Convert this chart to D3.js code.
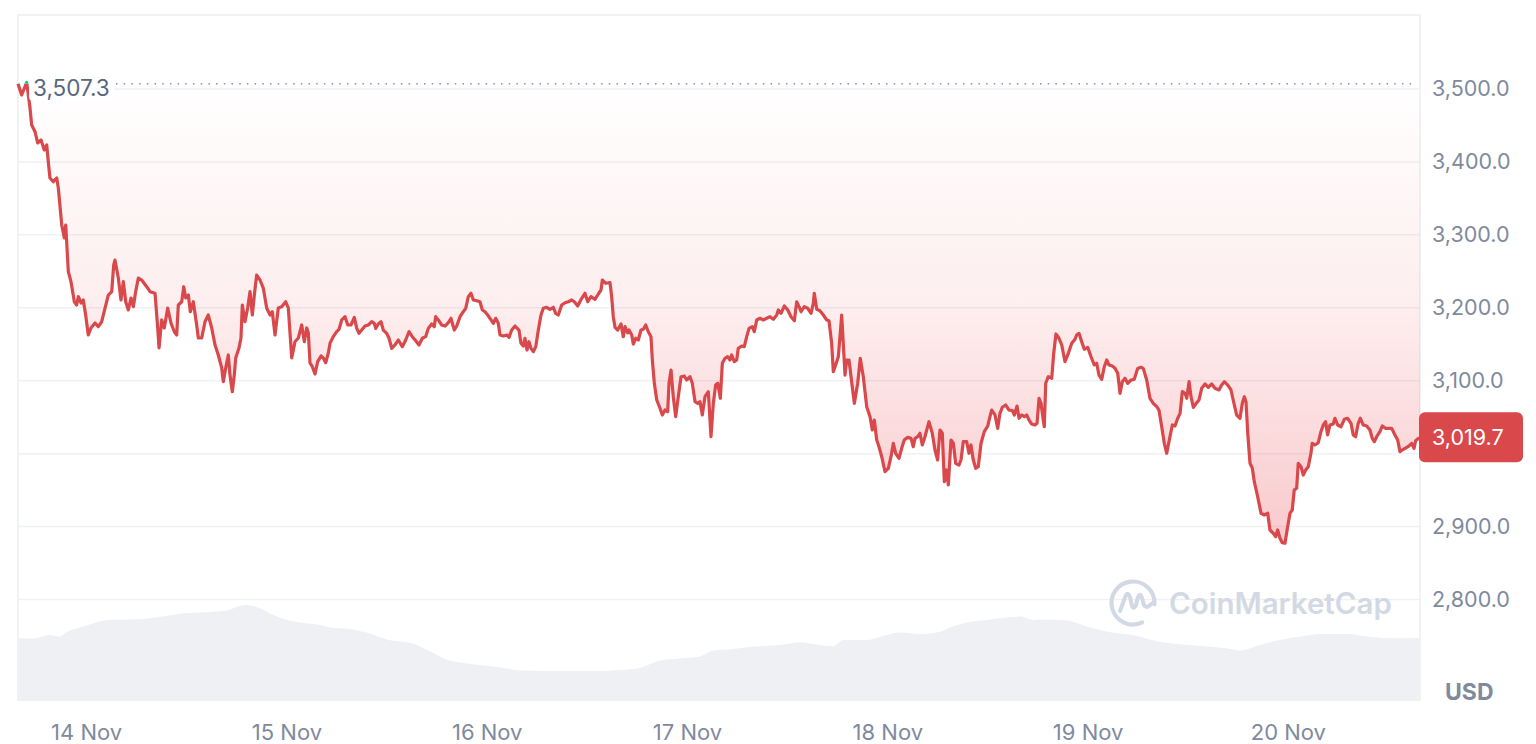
<!DOCTYPE html>
<html><head><meta charset="utf-8">
<script src="https://cdn.jsdelivr.net/npm/d3@7"></script>
<style>
html,body{margin:0;padding:0;background:#fff;}
svg{display:block;font-family:Inter,"Noto Sans",sans-serif;}
</style></head><body>
<svg id="chart" width="1536" height="744"></svg>
<script>
// ---------- data ----------
const startTime = "2024-11-13T15:50";
const openPrice = 3507.3;
const currencyLabel = "USD";
const watermarkText = "CoinMarketCap";
const yTickValues = [2800, 2900, 3000, 3100, 3200, 3300, 3400, 3500];
const xTickDates = ["2024-11-14", "2024-11-15", "2024-11-16", "2024-11-17", "2024-11-18", "2024-11-19", "2024-11-20"];

// hours since start
const priceHours = [
0,0.44,1.04,1.44,1.64,2.04,2.36,2.76,3.15,3.44,
3.63,3.83,4.23,4.64,4.83,5.24,5.55,5.72,6.03,6.35,
6.75,7.03,7.23,7.55,7.82,8.11,8.42,8.75,9.23,9.62,
10.03,10.43,10.82,11.23,11.47,11.62,12.02,12.34,12.62,12.91,
13.22,13.54,13.82,14.10,14.42,14.82,15.42,15.82,16.42,16.74,
16.90,17.22,17.53,17.94,18.33,18.73,19.02,19.21,19.62,19.86,
20.10,20.41,20.65,21.01,21.41,21.61,22.01,22.41,22.80,23.21,
23.61,24.00,24.41,24.60,24.89,25.20,25.40,25.68,25.92,26.09,
26.48,26.72,26.88,27.20,27.52,27.80,28.08,28.32,28.60,29.00,
29.39,29.80,30.20,30.47,30.80,31.19,31.60,32.08,32.39,32.80,
33.19,33.59,34.00,34.31,34.60,34.79,34.99,35.27,35.59,35.91,
36.31,36.58,36.87,37.18,37.39,37.78,38.19,38.47,38.79,39.19,
39.51,39.90,40.30,40.59,40.86,41.19,41.58,41.98,42.38,42.70,
42.86,43.17,43.50,43.77,44.18,44.46,44.78,45.18,45.57,46.05,
46.46,46.85,47.25,47.66,48.05,48.45,48.85,49.17,49.57,49.88,
50.05,50.36,50.77,51.17,51.56,51.89,52.04,52.28,52.57,52.97,
53.36,53.65,53.96,54.28,54.56,54.97,55.36,55.64,55.96,56.28,
56.68,56.96,57.24,57.55,57.76,58.15,58.56,58.84,59.16,59.56,
60.03,60.27,60.55,60.75,60.99,61.23,61.47,61.75,62.04,62.35,
62.67,62.95,63.35,63.75,64.14,64.43,64.74,65.15,65.55,65.94,
66.35,66.66,67.07,67.55,67.94,68.27,68.66,69.14,69.54,69.86,
70.02,70.42,70.94,71.14,71.33,71.54,71.86,72.26,72.53,72.74,
73.06,73.22,73.54,73.73,74.02,74.33,74.65,74.93,75.22,75.53,
75.85,76.01,76.25,76.54,76.93,77.21,77.53,77.85,78.01,78.25,
78.52,78.81,79.12,79.45,79.84,80.13,80.53,80.80,81.13,81.45,
81.72,82.00,82.32,82.72,83.04,83.32,83.60,83.85,84.16,84.40,
84.72,85.04,85.32,85.52,85.83,86.12,86.31,86.72,87.03,87.32,
87.60,87.99,88.23,88.52,88.91,89.31,89.72,90.11,90.51,90.92,
91.11,91.43,91.83,92.24,92.63,93.03,93.31,93.59,93.83,94.22,
94.63,95.03,95.30,95.42,95.71,96.10,96.50,96.91,97.18,97.50,
97.70,97.98,98.30,98.50,98.70,98.89,99.10,99.30,99.58,99.82,
100.22,100.62,100.93,101.29,101.70,102.10,102.37,102.61,102.90,103.17,
103.50,103.89,104.29,104.61,104.89,105.17,105.57,105.89,106.20,106.61,
107.01,107.28,107.49,107.81,108.08,108.36,108.68,109.16,109.56,109.88,
110.20,110.48,110.76,111.00,111.28,111.48,111.80,112.08,112.36,112.76,
113.00,113.27,113.68,113.95,114.19,114.47,114.76,115.07,115.40,115.79,
116.20,116.47,116.68,117.07,117.40,117.67,117.95,118.35,118.75,119.15,
119.39,119.71,119.95,120.28,120.59,120.87,121.15,121.47,121.87,122.11,
122.35,122.59,122.74,122.98,123.15,123.46,123.87,124.11,124.38,124.74,
125.07,125.46,125.86,126.27,126.66,126.86,127.14,127.46,127.77,128.18,
128.58,128.97,129.26,129.53,129.86,130.17,130.46,130.73,131.13,131.45,
131.78,132.05,132.33,132.65,132.97,133.37,133.76,134.17,134.56,134.84,
135.25,135.64,136.04,136.45,136.72,137.05,137.36,137.65,137.96,138.32,
138.64,138.97,139.25,139.52,139.85,140.05,140.33,140.56,140.84,141.13,
141.52,141.84,142.24,142.63,143.04,143.43,143.91,144.24,144.55,144.96,
145.35,145.75,146.03,146.43,146.71,146.95,147.15,147.36,147.63,147.91,
148.14,148.55,148.95,149.34,149.75,150.02,150.42,150.70,150.94,151.22,
151.49,151.82,152.14,152.42,152.69,152.93,153.22,153.41,153.74,154.01,
154.30,154.61,154.93,155.09,155.41,155.81,156.13,156.41,156.69,156.93,
157.21,157.60,157.81,158.13,158.53,158.93,159.33,159.73,160.00,160.29,
160.60,160.84,161.20,161.61,162.00,162.28,162.52,162.81,163.20,163.48,
163.89,164.28,164.61,165.00,165.33,165.60,166.00,166.40,166.68,167.00,
167.28,167.48,167.79,168.0
];
const prices = [
3507.3,3491.8,3509.0,3473.9,3450.6,3441.4,3426.0,3430.1,3416.4,3423.2,
3400.3,3378.0,3372.9,3378.0,3364.3,3313.5,3295.7,3313.5,3249.5,3235.8,
3208.3,3203.8,3215.2,3206.6,3210.7,3190.1,3162.7,3172.3,3179.1,3174.1,
3180.9,3199.7,3217.5,3222.1,3258.7,3265.5,3240.8,3210.7,3235.8,3208.3,
3197.0,3213.4,3201.5,3222.1,3240.8,3238.1,3228.9,3222.1,3219.9,3172.3,
3144.9,3183.3,3172.3,3199.7,3179.1,3167.2,3162.7,3203.8,3208.3,3228.9,
3213.4,3217.5,3194.6,3208.3,3176.4,3158.6,3158.6,3180.9,3190.1,3172.3,
3149.0,3135.3,3117.5,3098.7,3117.5,3135.3,3107.8,3084.9,3107.8,3131.2,
3144.9,3158.6,3203.8,3180.9,3199.7,3222.1,3190.1,3217.5,3244.9,3238.1,
3227.1,3199.7,3190.1,3194.6,3162.7,3199.7,3201.5,3208.3,3199.7,3131.2,
3153.5,3158.6,3176.4,3153.5,3172.3,3165.4,3124.3,3119.2,3109.2,3126.1,
3133.9,3131.2,3124.7,3137.6,3151.3,3160.4,3167.2,3170.5,3183.3,3187.8,
3176.4,3176.4,3186.9,3171.8,3165.0,3169.5,3175.0,3176.4,3180.9,3178.7,
3171.8,3177.8,3180.9,3169.5,3165.0,3158.2,3144.4,3149.0,3155.8,3146.7,
3155.8,3167.2,3160.4,3154.9,3149.0,3158.2,3160.4,3171.8,3177.8,3174.1,
3187.8,3183.3,3176.4,3175.0,3179.6,3185.6,3178.7,3169.5,3175.0,3187.8,
3194.6,3199.3,3215.2,3219.9,3210.7,3209.7,3208.3,3197.0,3194.6,3190.1,
3183.3,3178.7,3185.6,3178.7,3162.7,3161.3,3162.7,3159.5,3169.5,3175.0,
3169.5,3151.3,3147.6,3158.2,3142.1,3153.5,3144.4,3139.8,3146.7,3169.5,
3190.1,3199.3,3200.7,3197.9,3200.7,3192.4,3190.1,3203.8,3206.9,3208.3,
3210.7,3208.3,3202.5,3213.0,3219.9,3208.3,3215.2,3211.6,3218.9,3224.4,
3238.1,3233.6,3234.4,3215.2,3187.8,3173.2,3169.5,3177.8,3160.4,3174.1,
3165.8,3169.5,3162.7,3150.3,3158.2,3155.8,3169.5,3170.5,3176.4,3167.2,
3160.4,3128.4,3096.5,3073.6,3062.2,3053.0,3059.8,3057.5,3096.5,3114.7,
3078.1,3050.7,3078.1,3105.5,3106.5,3101.0,3105.5,3096.5,3071.2,3069.0,
3071.2,3053.0,3078.1,3084.9,3023.2,3069.0,3094.1,3096.5,3075.9,3123.9,
3130.7,3132.9,3128.4,3135.3,3126.1,3128.4,3144.4,3147.6,3146.7,3160.4,
3171.8,3174.1,3167.2,3183.3,3185.6,3183.3,3185.6,3187.8,3184.2,3190.1,
3197.0,3192.4,3202.5,3197.0,3187.8,3182.3,3208.3,3201.5,3194.6,3201.5,
3199.3,3192.4,3206.1,3219.9,3197.9,3196.0,3190.1,3183.3,3182.3,3151.3,
3112.4,3121.6,3132.9,3160.4,3190.1,3151.3,3107.8,3128.4,3128.4,3105.5,
3069.0,3096.5,3130.7,3105.5,3064.4,3050.7,3032.4,3046.1,3018.7,3009.5,
2995.8,2975.2,2979.9,2995.8,3014.2,3000.5,2993.6,3007.3,3018.7,3022.4,
3021.0,3009.5,3021.0,3023.2,3027.9,3011.9,3023.2,3043.8,3027.9,3005.0,
2991.3,3032.4,3027.9,2961.5,2977.6,2957.0,3018.7,3014.2,2986.8,2984.4,
2991.3,3016.4,3016.4,3000.5,3011.9,2991.3,2979.9,2982.1,3014.2,3030.1,
3037.9,3050.7,3059.8,3053.0,3034.7,3055.3,3063.6,3066.7,3059.8,3058.9,
3053.0,3065.3,3048.5,3053.0,3050.7,3053.0,3046.1,3040.6,3039.3,3041.6,
3075.9,3069.0,3055.3,3036.9,3096.5,3105.5,3103.3,3137.6,3164.1,3158.2,
3149.0,3126.1,3137.6,3151.3,3156.8,3162.7,3165.0,3153.5,3143.1,3145.8,
3132.9,3121.6,3123.9,3107.8,3101.9,3119.2,3128.4,3121.6,3120.2,3117.0,
3110.2,3082.7,3098.7,3103.3,3096.5,3101.0,3101.9,3116.9,3118.4,3116.9,
3100.9,3075.9,3069.0,3064.4,3059.8,3036.9,3014.2,3000.5,3018.7,3039.3,
3037.9,3048.5,3055.3,3085.1,3082.7,3075.9,3098.7,3078.1,3063.5,3068.1,
3073.6,3089.6,3095.5,3091.0,3095.5,3089.6,3087.3,3094.1,3098.7,3094.1,
3087.3,3066.7,3053.0,3048.5,3069.0,3078.1,3071.2,3027.9,2986.8,2979.9,
2961.5,2940.9,2918.2,2915.9,2918.2,2895.3,2890.8,2886.1,2895.3,2883.9,
2877.9,2877.1,2899.8,2918.2,2922.7,2950.1,2952.5,2986.8,2982.1,2970.7,
2977.6,2982.1,3000.5,3014.2,3011.9,3015.0,3030.1,3039.3,3043.8,3025.6,
3039.3,3040.6,3048.5,3039.3,3036.9,3047.1,3048.5,3041.6,3025.6,3023.2,
3041.6,3048.5,3039.3,3037.9,3032.4,3021.0,3016.4,3023.2,3030.1,3037.9,
3034.7,3034.7,3034.7,3025.6,3018.7,3002.7,3006.0,3008.7,3010.5,3014.2,
3007.3,3017.8,3021.0,3019.7
];

// 24h volume (billion USD), hours since start
const volumeHours = [0,1.8,3.8,5.0,5.9,7.1,9.0,11.0,13.8,15.8,17.9,19.4,21.8,25.0,26.6,27.4,29.0,30.6,32.2,33.8,36.2,37.7,40.1,41.8,44.2,47.3,49.0,51.4,53.8,56.2,57.8,60.2,63.7,69.7,72.1,74.5,76.1,76.9,79.3,81.7,83.3,85.7,88.1,91.3,93.7,96.1,97.7,98.9,101.7,104.1,105.7,108.1,110.5,112.0,113.7,116.1,117.7,120.1,121.6,122.5,125.7,128.1,130.5,133.6,136.8,140.1,142.5,145.6,146.4,148.8,151.2,153.6,156.0,159.3,161.7,164.1,166.5,168];
const volumes = [15.7,15.6,16.5,16.1,17.3,18.2,19.4,20.3,20.4,20.7,21.3,21.8,22.1,22.6,23.8,24.0,23.2,21.5,20.3,19.6,19.0,18.3,17.9,17.1,15.4,14.4,12.8,10.3,9.4,8.8,8.4,7.6,7.5,7.5,7.75,8.25,9.5,10.1,10.6,11.1,12.6,13.0,13.6,14.0,14.6,14.0,13.75,15.25,15.25,16.5,17.1,16.75,17.3,18.6,19.6,20.25,20.7,21.1,20.25,20.4,20.1,18.6,17.3,16.5,14.8,14.0,13.6,12.9,12.6,14.0,15.25,16.1,16.75,16.75,16.1,15.7,15.7,15.75];

// ---------- build ----------
(function () {
const parseT = d3.timeParse("%Y-%m-%dT%H:%M");
const parseD = d3.timeParse("%Y-%m-%d");
const t0 = parseT(startTime);
const toDate = h => new Date(t0.getTime() + h * 3600e3);
const n = Math.min(priceHours.length, prices.length);
const priceData = d3.range(n).map(i => ({t: toDate(priceHours[i]), p: prices[i]}));
const volData = volumeHours.map((h, i) => ({t: toDate(h), v: volumes[i]}));

const pL = 18, pR = 1420, pT = 15, pB = 701;
const FONT = "Inter,'Noto Sans',sans-serif";
const svg = d3.select("#chart");
const x = d3.scaleTime().domain([t0, toDate(168)]).range([pL, pR]);
const y = d3.scaleLinear().domain([2660.8, 3601.5]).range([pB, pT]);
const vy = d3.scaleLinear().domain([0, 25]).range([pB, 601]);

const RED = "#d9484b", GREEN = "#16c784";
const defs = svg.append("defs");
const yOpen = y(openPrice);
const minP = d3.min(prices);
const grad = defs.append("linearGradient").attr("id", "fillGrad")
  .attr("gradientUnits", "userSpaceOnUse").attr("x1", 0).attr("x2", 0)
  .attr("y1", yOpen).attr("y2", y(minP));
grad.append("stop").attr("offset", 0).attr("stop-color", "#ea3943").attr("stop-opacity", 0.0);
grad.append("stop").attr("offset", 0.5).attr("stop-color", "#ea3943").attr("stop-opacity", 0.09);
grad.append("stop").attr("offset", 1).attr("stop-color", "#ea3943").attr("stop-opacity", 0.27);

defs.append("clipPath").attr("id", "below").append("rect")
  .attr("x", 0).attr("y", yOpen).attr("width", 1536).attr("height", 744);
defs.append("clipPath").attr("id", "above").append("rect")
  .attr("x", 0).attr("y", 0).attr("width", 1536).attr("height", yOpen);

// grid
svg.append("g").selectAll("line").data(yTickValues).join("line")
  .attr("x1", pL).attr("x2", pR)
  .attr("y1", d => y(d)).attr("y2", d => y(d))
  .attr("stroke", "#eff1f4").attr("stroke-width", 1.5);

// frame
svg.append("path").attr("d", `M${pL},${pB}V${pT}H${pR}V${pB}`)
  .attr("stroke", "#eceef1").attr("stroke-width", 1.5).attr("fill", "none");

// volume
svg.append("path").datum(volData)
  .attr("d", d3.area().x(d => x(d.t)).y0(pB).y1(d => vy(d.v)).curve(d3.curveMonotoneX))
  .attr("fill", "#eff0f4");

// watermark
const wm = svg.append("g");
const cx = 1133, cy = 603, r = 21.5;
const pth = d3.path();
pth.arc(cx, cy, r, Math.PI * 0.36, Math.PI * 2.02);
wm.append("path").attr("d", pth.toString()).attr("fill", "none")
  .attr("stroke", "#d3d9e4").attr("stroke-width", 4.2).attr("stroke-linecap", "round");
wm.append("path")
  .attr("d", `M${cx-13},${cy+8} L${cx-7},${cy-8} Q${cx-5},${cy-11} ${cx-3},${cy-6} L${cx-1},${cy+3} Q${cx+1},${cy+7} ${cx+3},${cy+2} L${cx+5},${cy-6} Q${cx+7},${cy-11} ${cx+9},${cy-5} L${cx+11},${cy+2} Q${cx+13},${cy+6} ${cx+17},${cy+2} L${cx+21},${cy-1}`)
  .attr("fill", "none").attr("stroke", "#d3d9e4").attr("stroke-width", 4)
  .attr("stroke-linecap", "round").attr("stroke-linejoin", "round");
wm.append("text").attr("x", 1169).attr("y", 614).text(watermarkText)
  .attr("font-size", 29.5).attr("font-weight", 600).attr("fill", "#d3d9e4");

// price area (between open price and price)
svg.append("path").datum(priceData)
  .attr("clip-path", "url(#below)")
  .attr("d", d3.area().x(d => x(d.t)).y0(yOpen).y1(d => y(d.p)))
  .attr("fill", "url(#fillGrad)");

// price line
const line = d3.line().x(d => x(d.t)).y(d => y(d.p));
svg.append("path").datum(priceData).attr("d", line).attr("clip-path", "url(#below)")
  .attr("fill", "none").attr("stroke", RED).attr("stroke-width", 3.2).attr("stroke-linejoin", "round");
svg.append("path").datum(priceData).attr("d", line).attr("clip-path", "url(#above)")
  .attr("fill", "none").attr("stroke", GREEN).attr("stroke-width", 3.2).attr("stroke-linejoin", "round");

// open price dotted line + label
svg.append("line").attr("x1", 116).attr("x2", 1416).attr("y1", yOpen).attr("y2", yOpen)
  .attr("stroke", "#8a93a6").attr("stroke-width", 1.5).attr("stroke-dasharray", "1.5,6.2");
svg.append("rect").attr("x", 29).attr("y", yOpen - 14).attr("width", 85).attr("height", 31).attr("rx", 4)
  .attr("fill", "#fff").attr("opacity", 0.92);
svg.append("text").attr("x", 33).attr("y", yOpen + 4).attr("dy", "0.35em")
  .text(d3.format(",.1f")(openPrice)).attr("font-size", 22.5).attr("fill", "#58667e");

// last price position (to hide tick label underneath the box)
const last = priceData[priceData.length - 1];
const yl = y(last.p);

// y axis
const yAxis = svg.append("g").attr("transform", "translate(1432,0)")
  .call(d3.axisRight(y).tickValues(yTickValues).tickFormat(d3.format(",.1f")).tickSize(0).tickPadding(0));
yAxis.select(".domain").remove();
yAxis.selectAll("text").attr("font-size", 21.5).attr("fill", "#808a9d").attr("font-family", FONT);
yAxis.selectAll(".tick").filter(d => Math.abs(y(d) - yl) < 24).remove();

// x axis
const xAxis = svg.append("g").attr("transform", "translate(0,724)")
  .call(d3.axisBottom(x).tickValues(xTickDates.map(parseD)).tickFormat(d3.timeFormat("%-d %b")).tickSize(0).tickPadding(0));
xAxis.select(".domain").remove();
xAxis.selectAll("text").attr("font-size", 22).attr("fill", "#808a9d").attr("font-family", FONT);

// currency label
svg.append("text").attr("x", 1445).attr("y", 692).attr("dy", "0.35em").text(currencyLabel)
  .attr("font-size", 23).attr("font-weight", 700).attr("fill", "#808a9d");

// last price label
svg.append("rect").attr("x", 1419).attr("y", yl - 27).attr("width", 104).attr("height", 50).attr("rx", 6)
  .attr("fill", RED);
svg.append("text").attr("x", 1432).attr("y", yl - 2).attr("dy", "0.35em")
  .text(d3.format(",.1f")(last.p)).attr("font-size", 21.5).attr("fill", "#fff");
})();
</script>
</body></html>
